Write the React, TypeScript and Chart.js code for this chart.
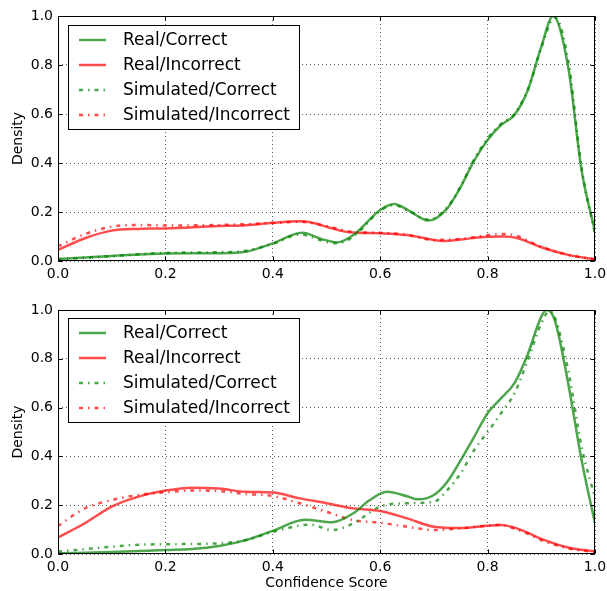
import React, { useEffect, useRef } from "react";
import { Chart, registerables } from "chart.js";

Chart.register(...registerables);

const FONT = "'DejaVu Sans', sans-serif";
const GREEN = "rgba(0,128,0,0.7)";
const RED = "rgba(255,0,0,0.7)";
const GRID = "rgba(0,0,0,0.65)";
const SIM_DASH = [4, 5, 1.5, 5];

const SERIES_LABELS = ["Real/Correct", "Real/Incorrect", "Simulated/Correct", "Simulated/Incorrect"];
const X_TICKS = [0, 0.2, 0.4, 0.6, 0.8, 1.0];
const X_TICK_LABELS = ["0.0", "0.2", "0.4", "0.6", "0.8", "1.0"];
const Y_TICKS = [0, 0.2, 0.4, 0.6, 0.8, 1.0];
const Y_TICK_LABELS = ["0.0", "0.2", "0.4", "0.6", "0.8", "1.0"];
const Y_TITLE = "Density";
const X_TITLE = "Confidence Score";

// ---- top panel ----
const topRealCorrectX = [0, 0.1, 0.2, 0.3, 0.35, 0.4, 0.455, 0.49, 0.52, 0.55, 0.6, 0.626, 0.65, 0.69, 0.725, 0.75, 0.775, 0.8, 0.825, 0.85, 0.875, 0.9, 0.922, 0.95, 0.975, 1.0];
const topRealCorrectY = [0.008, 0.02, 0.031, 0.032, 0.038, 0.072, 0.115, 0.09, 0.076, 0.106, 0.208, 0.233, 0.21, 0.165, 0.215, 0.303, 0.41, 0.494, 0.555, 0.596, 0.698, 0.875, 1.0, 0.793, 0.371, 0.12];

const topRealIncorrectX = [0, 0.05, 0.1, 0.15, 0.2, 0.3, 0.35, 0.4, 0.45, 0.47, 0.5, 0.53, 0.55, 0.6, 0.65, 0.7, 0.72, 0.75, 0.8, 0.83, 0.855, 0.875, 0.9, 0.95, 1.0];
const topRealIncorrectY = [0.045, 0.093, 0.124, 0.131, 0.133, 0.143, 0.146, 0.156, 0.162, 0.158, 0.14, 0.122, 0.116, 0.113, 0.106, 0.086, 0.082, 0.088, 0.099, 0.1, 0.094, 0.078, 0.056, 0.025, 0.007];

const topSimCorrectX = [0, 0.1, 0.2, 0.3, 0.35, 0.4, 0.45, 0.5, 0.52, 0.55, 0.6, 0.625, 0.65, 0.69, 0.725, 0.75, 0.775, 0.8, 0.825, 0.85, 0.875, 0.9, 0.925, 0.95, 0.975, 1.0];
const topSimCorrectY = [0.006, 0.02, 0.033, 0.036, 0.042, 0.07, 0.108, 0.078, 0.072, 0.1, 0.205, 0.228, 0.208, 0.168, 0.22, 0.305, 0.415, 0.5, 0.56, 0.6, 0.7, 0.87, 0.995, 0.82, 0.38, 0.11];

const topSimIncorrectX = [0, 0.05, 0.1, 0.15, 0.2, 0.3, 0.4, 0.45, 0.5, 0.55, 0.6, 0.65, 0.7, 0.75, 0.8, 0.83, 0.855, 0.875, 0.9, 0.95, 1.0];
const topSimIncorrectY = [0.06, 0.11, 0.14, 0.147, 0.145, 0.147, 0.155, 0.16, 0.143, 0.118, 0.115, 0.107, 0.086, 0.09, 0.105, 0.11, 0.102, 0.082, 0.058, 0.025, 0.007];

// ---- bottom panel ----
const botRealCorrectX = [0, 0.1, 0.2, 0.25, 0.3, 0.35, 0.4, 0.46, 0.51, 0.55, 0.58, 0.612, 0.65, 0.67, 0.7, 0.725, 0.75, 0.775, 0.8, 0.825, 0.85, 0.875, 0.9, 0.91, 0.925, 0.95, 0.975, 1.0];
const botRealCorrectY = [0.003, 0.008, 0.016, 0.02, 0.033, 0.057, 0.095, 0.14, 0.13, 0.167, 0.22, 0.255, 0.237, 0.224, 0.242, 0.296, 0.385, 0.48, 0.577, 0.638, 0.7, 0.82, 0.973, 1.0, 0.959, 0.7, 0.385, 0.126];

const botRealIncorrectX = [0, 0.05, 0.1, 0.15, 0.2, 0.25, 0.3, 0.35, 0.4, 0.45, 0.5, 0.55, 0.6, 0.65, 0.7, 0.75, 0.8, 0.825, 0.85, 0.875, 0.9, 0.95, 1.0];
const botRealIncorrectY = [0.068, 0.126, 0.194, 0.235, 0.26, 0.272, 0.268, 0.255, 0.252, 0.228, 0.208, 0.187, 0.176, 0.146, 0.112, 0.107, 0.116, 0.119, 0.108, 0.087, 0.062, 0.027, 0.01];

const botSimCorrectX = [0, 0.05, 0.1, 0.15, 0.2, 0.3, 0.35, 0.4, 0.47, 0.51, 0.55, 0.6, 0.65, 0.7, 0.725, 0.75, 0.775, 0.8, 0.825, 0.85, 0.875, 0.9, 0.915, 0.925, 0.95, 0.975, 1.0];
const botSimCorrectY = [0.01, 0.02, 0.03, 0.038, 0.04, 0.044, 0.057, 0.091, 0.12, 0.098, 0.126, 0.194, 0.208, 0.214, 0.262, 0.331, 0.426, 0.5, 0.577, 0.659, 0.795, 0.945, 0.995, 0.97, 0.754, 0.44, 0.23];

const botSimIncorrectX = [0, 0.05, 0.1, 0.15, 0.2, 0.25, 0.3, 0.35, 0.4, 0.45, 0.5, 0.55, 0.6, 0.65, 0.7, 0.75, 0.8, 0.825, 0.85, 0.875, 0.9, 0.95, 1.0];
const botSimIncorrectY = [0.115, 0.187, 0.221, 0.242, 0.253, 0.26, 0.258, 0.246, 0.238, 0.208, 0.173, 0.139, 0.128, 0.112, 0.098, 0.105, 0.116, 0.12, 0.104, 0.083, 0.057, 0.023, 0.008];

type Series = { label: string; xs: number[]; ys: number[]; color: string; dashed: boolean };

const topSeries: Series[] = [
  { label: SERIES_LABELS[0], xs: topRealCorrectX, ys: topRealCorrectY, color: GREEN, dashed: false },
  { label: SERIES_LABELS[1], xs: topRealIncorrectX, ys: topRealIncorrectY, color: RED, dashed: false },
  { label: SERIES_LABELS[2], xs: topSimCorrectX, ys: topSimCorrectY, color: GREEN, dashed: true },
  { label: SERIES_LABELS[3], xs: topSimIncorrectX, ys: topSimIncorrectY, color: RED, dashed: true },
];
const botSeries: Series[] = [
  { label: SERIES_LABELS[0], xs: botRealCorrectX, ys: botRealCorrectY, color: GREEN, dashed: false },
  { label: SERIES_LABELS[1], xs: botRealIncorrectX, ys: botRealIncorrectY, color: RED, dashed: false },
  { label: SERIES_LABELS[2], xs: botSimCorrectX, ys: botSimCorrectY, color: GREEN, dashed: true },
  { label: SERIES_LABELS[3], xs: botSimIncorrectX, ys: botSimIncorrectY, color: RED, dashed: true },
];

function makeDecorPlugin(legendOffset: number, showXTitle: boolean) {
  return {
    id: "decor",
    afterDatasetsDraw(chart: any) {
      const { ctx, chartArea: a } = chart;
      const xs = chart.scales.x;
      const ys = chart.scales.y;
      ctx.save();
      // frame
      ctx.strokeStyle = "#000";
      ctx.lineWidth = 1;
      ctx.setLineDash([]);
      const L = Math.round(a.left) + 0.5;
      const T = Math.round(a.top) + 0.5;
      const R = Math.round(a.right) - 0.5;
      const B = Math.round(a.bottom) - 0.5;
      ctx.strokeRect(L, T, R - L, B - T);
      // inward ticks
      ctx.beginPath();
      for (const v of X_TICKS) {
        const px = Math.round(xs.getPixelForValue(v)) + 0.5;
        ctx.moveTo(px, B); ctx.lineTo(px, B - 4);
        ctx.moveTo(px, T); ctx.lineTo(px, T + 4);
      }
      for (const v of Y_TICKS) {
        const py = Math.round(ys.getPixelForValue(v)) + 0.5;
        ctx.moveTo(L, py); ctx.lineTo(L + 4, py);
        ctx.moveTo(R, py); ctx.lineTo(R - 4, py);
      }
      ctx.stroke();

      // legend
      const bx = Math.round(a.left + 10) + 0.5;
      const by = Math.round(a.top + legendOffset) + 0.5;
      ctx.fillStyle = "#fff";
      ctx.fillRect(bx, by, 231, 104);
      ctx.strokeStyle = "#000";
      ctx.strokeRect(bx, by, 231, 104);
      chart.data.datasets.forEach((ds: any, i: number) => {
        const y = Math.round(by + 14.5 + 25 * i);
        ctx.beginPath();
        ctx.strokeStyle = ds.borderColor;
        ctx.lineWidth = 2.5;
        ctx.setLineDash(ds.borderDash || []);
        ctx.moveTo(a.left + 21, y);
        ctx.lineTo(a.left + 48, y);
        ctx.stroke();
        ctx.setLineDash([]);
        ctx.fillStyle = "#000";
        ctx.font = `17px ${FONT}`;
        ctx.textAlign = "left";
        ctx.textBaseline = "middle";
        ctx.fillText(ds.label, a.left + 65, y + 0.5);
      });

      // axis titles
      ctx.fillStyle = "#000";
      ctx.font = `14px ${FONT}`;
      ctx.textAlign = "center";
      ctx.textBaseline = "middle";
      ctx.save();
      ctx.translate(18, (a.top + a.bottom) / 2);
      ctx.rotate(-Math.PI / 2);
      ctx.fillText(Y_TITLE, 0, 0);
      ctx.restore();
      if (showXTitle) {
        ctx.fillText(X_TITLE, (a.left + a.right) / 2, chart.height - 8);
      }
      ctx.restore();
    },
  };
}

function Panel(props: { series: Series[]; top: number; height: number; padTop: number; xAxisH: number; legendOffset: number; showXTitle: boolean }) {
  const ref = useRef<HTMLCanvasElement>(null);
  useEffect(() => {
    const { series, padTop, xAxisH, legendOffset, showXTitle } = props;
    const chart = new Chart(ref.current as HTMLCanvasElement, {
      type: "line",
      data: {
        datasets: series.map((s) => ({
          label: s.label,
          data: s.xs.map((x, i) => ({ x, y: s.ys[i] })),
          borderColor: s.color,
          backgroundColor: s.color,
          borderWidth: 2.5,
          borderDash: s.dashed ? SIM_DASH : [],
          borderCapStyle: "butt",
          pointRadius: 0,
          fill: false,
          cubicInterpolationMode: "monotone",
        })),
      },
      options: {
        responsive: false,
        animation: false,
        events: [],
        layout: { padding: { top: padTop, right: 12, left: 0, bottom: 0 } },
        plugins: { legend: { display: false }, tooltip: { enabled: false }, title: { display: false } },
        scales: {
          x: {
            type: "linear",
            min: 0,
            max: 1,
            afterBuildTicks: (s: any) => { s.ticks = X_TICKS.map((v) => ({ value: v })); },
            afterFit: (s: any) => { s.height = xAxisH; s.paddingLeft = 0; s.paddingRight = 0; },
            ticks: {
              callback: (_v: any, i: number) => X_TICK_LABELS[i],
              font: { family: FONT, size: 14 },
              color: "#000",
              padding: 5,
              maxRotation: 0,
              autoSkip: false,
            },
            grid: { color: GRID, lineWidth: 1, drawTicks: false },
            border: { display: false, dash: [1, 3] },
          },
          y: {
            type: "linear",
            min: 0,
            max: 1,
            afterBuildTicks: (s: any) => { s.ticks = Y_TICKS.map((v) => ({ value: v })); },
            afterFit: (s: any) => { s.width = 58; s.paddingTop = 0; s.paddingBottom = 0; },
            ticks: {
              callback: (_v: any, i: number) => Y_TICK_LABELS[i],
              font: { family: FONT, size: 14 },
              color: "#000",
              padding: 5,
              autoSkip: false,
            },
            grid: { color: GRID, lineWidth: 1, drawTicks: false },
            border: { display: false, dash: [1, 3] },
          },
        },
      } as any,
      plugins: [makeDecorPlugin(legendOffset, showXTitle)],
    });
    return () => chart.destroy();
  }, []);
  return (
    <canvas
      ref={ref}
      width={607}
      height={props.height}
      style={{ position: "absolute", left: 0, top: props.top, display: "block" }}
    />
  );
}

export default function App() {
  return (
    <div style={{ position: "fixed", left: 0, top: 0, width: 607, height: 591, background: "#fff" }}>
      <Panel series={topSeries} top={0} height={290} padTop={16} xAxisH={29} legendOffset={9} showXTitle={false} />
      <Panel series={botSeries} top={295} height={296} padTop={15} xAxisH={37} legendOffset={8} showXTitle={true} />
    </div>
  );
}
